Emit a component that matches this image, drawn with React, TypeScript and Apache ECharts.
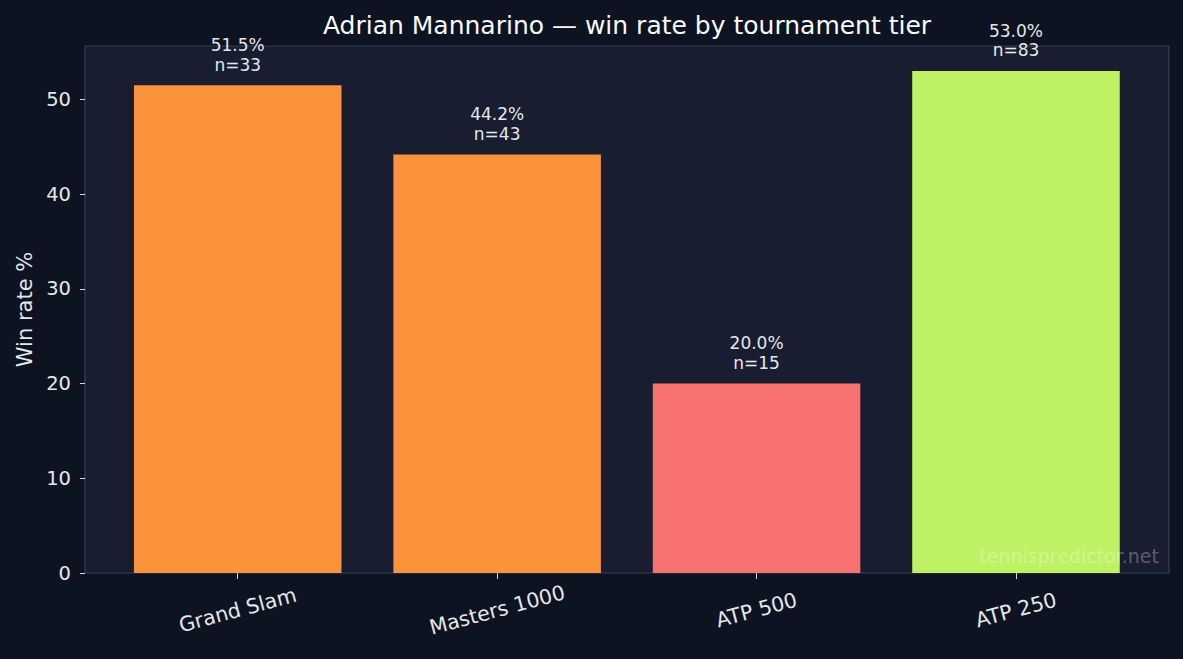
import React, { useEffect, useRef } from "react";
import * as echarts from "echarts";

const categories = ["Grand Slam", "Masters 1000", "ATP 500", "ATP 250"];
const winRates = [51.5, 44.2, 20.0, 53.0];
const matchCounts = [33, 43, 15, 83];
const barColors = ["#fb923c", "#fb923c", "#f87171", "#bef264"];
const yTicks = [0, 10, 20, 30, 40, 50];
const yMax = 55.65;

export default function App() {
  const ref = useRef<HTMLDivElement>(null);
  useEffect(() => {
    const chart = echarts.init(ref.current!, null, { renderer: "svg" });
    const font = "'DejaVu Sans', sans-serif";
    const textColor = "#e5e7eb";
    const tickColor = "#d1d5db";
    chart.setOption({
      animation: false,
      backgroundColor: "#0e1321",
      textStyle: { fontFamily: font },
      title: {
        text: "Adrian Mannarino — win rate by tournament tier",
        left: 627,
        top: 12.5,
        textAlign: "center",
        padding: 0,
        textStyle: { color: "#f8fafc", fontSize: 25, fontWeight: "normal", lineHeight: 25, fontFamily: font },
      },
      grid: [
        { left: 85, top: 46, right: 14, bottom: 86, show: true, backgroundColor: "#181d30", borderColor: "#334155", borderWidth: 1.2 },
        { left: 108, top: 46, right: 37.3, bottom: 86 },
      ],
      xAxis: [
        { type: "value", gridIndex: 0, show: false, min: 0, max: 1 },
        {
          type: "category",
          gridIndex: 1,
          data: categories,
          axisLine: { show: false },
          axisTick: { show: true, alignWithLabel: true, interval: 0, length: 6, lineStyle: { color: tickColor } },
          axisLabel: { rotate: 15, align: "center", verticalAlign: "middle", margin: 37, fontSize: 20.5, color: textColor, interval: 0, fontFamily: font },
        },
      ],
      yAxis: [
        {
          type: "value",
          gridIndex: 0,
          min: 0,
          max: yMax,
          interval: 10,
          name: "Win rate %",
          nameLocation: "middle",
          nameGap: 48,
          nameTextStyle: { fontSize: 21, color: textColor, fontFamily: font },
          axisLine: { show: false },
          axisTick: { show: true, length: 5, lineStyle: { color: tickColor }, customValues: yTicks },
          axisLabel: { customValues: yTicks, fontSize: 19.5, color: textColor, margin: 14, fontFamily: font },
          splitLine: { show: false },
        },
        { type: "value", gridIndex: 1, min: 0, max: yMax, show: false },
      ],
      series: [
        {
          type: "bar",
          xAxisIndex: 1,
          yAxisIndex: 1,
          barWidth: "80%",
          data: winRates.map((v, i) => ({ value: v, itemStyle: { color: barColors[i] } })),
          label: {
            show: true,
            position: "top",
            distance: 11,
            formatter: (p: any) => `${winRates[p.dataIndex].toFixed(1)}%\nn=${matchCounts[p.dataIndex]}`,
            fontSize: 17,
            lineHeight: 19.5,
            color: textColor,
            fontFamily: font,
          },
        },
      ],
      graphic: [
        {
          type: "text",
          x: 1159,
          y: 556.4,
          z: 100,
          style: {
            text: "tennispredictor.net",
            align: "right",
            verticalAlign: "middle",
            fontSize: 19,
            fontFamily: font,
            fill: "rgba(255,255,255,0.3)",
          },
        },
      ],
    });
    return () => chart.dispose();
  }, []);
  return <div ref={ref} style={{ position: "fixed", left: 0, top: 0, width: 1183, height: 659 }} />;
}
